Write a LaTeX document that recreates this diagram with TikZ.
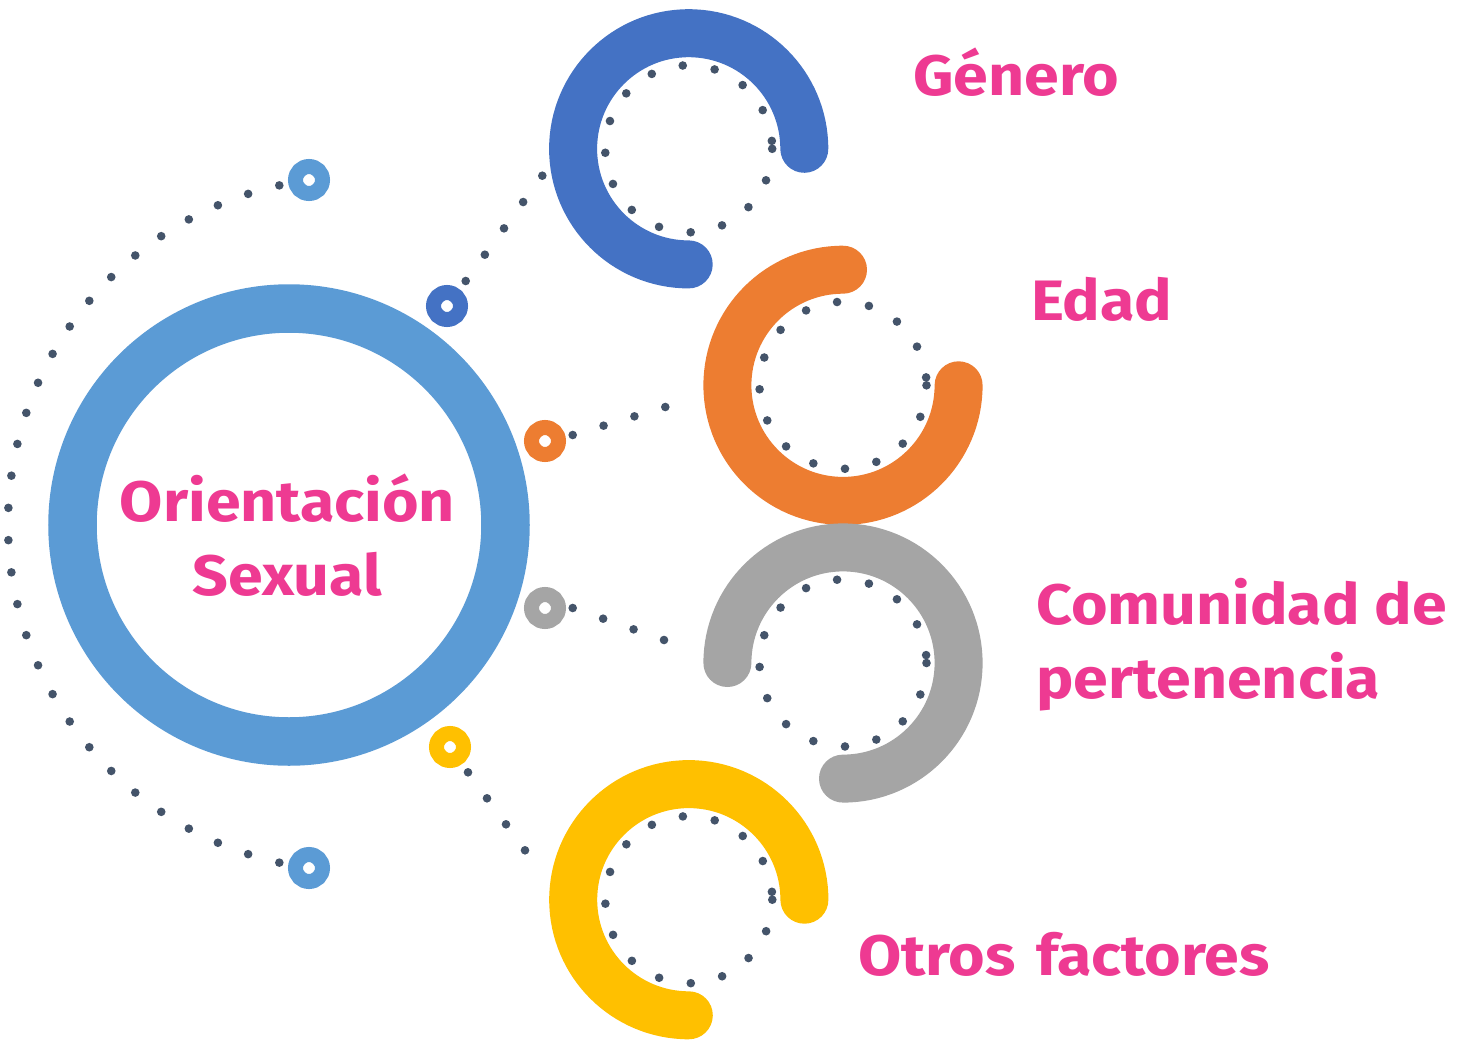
\documentclass[tikz,border=0pt]{standalone}
\usepackage{fontspec}
\setmainfont{Fira Sans}[FakeStretch=1.10]
\usetikzlibrary{calc}
\definecolor{mainblue}{HTML}{5B9BD5}
\definecolor{darkblue}{HTML}{4472C4}
\definecolor{orangeC}{HTML}{ED7D31}
\definecolor{grayC}{HTML}{A5A5A5}
\definecolor{yellowC}{HTML}{FFC000}
\definecolor{dotC}{HTML}{44546A}
\definecolor{pinkC}{HTML}{EE3A92}
\begin{document}
\begin{tikzpicture}[x=1pt,y=1pt,
  bigarc/.style={line width=48pt, line cap=round},
  ringnode/.style={circle, draw=#1, line width=15pt, minimum size=27pt, inner sep=0pt},
  lbl/.style={text=pinkC, font=\bfseries\fontsize{57}{74}\selectfont, inner sep=0pt},
  dotfill/.style={fill=dotC}
]
\useasboundingbox (0,0) rectangle (1460,-1045);
\fill[white] (0,0) rectangle (1460,-1045);

% centres
\coordinate (cBig) at (355,-524);
\coordinate (cG) at (688.7,-148.8);
\coordinate (cE) at (843,-385.3);
\coordinate (cC) at (843,-663);
\coordinate (cO) at (688.8,-899.7);

% big dotted arc
\foreach \k in {0,...,29} \fill[dotfill] ([shift={(102.6+5.338*\k:347)}]cBig) circle (4.3);

% main circle
\node[circle, draw=mainblue, line width=48.5pt, minimum size=433pt, inner sep=0pt] (main) at (289,-525) {};

% arcs
\draw[bigarc, darkblue] ([shift={(0:115.6)}]cG) arc[start angle=0, end angle=270, radius=115.6];
\draw[bigarc, orangeC] ([shift={(90:115.6)}]cE) arc[start angle=90, end angle=360, radius=115.6];
\draw[bigarc, grayC] ([shift={(180:115.6)}]cC) arc[start angle=180, end angle=-90, radius=115.6];
\draw[bigarc, yellowC] ([shift={(0:115.6)}]cO) arc[start angle=0, end angle=270, radius=115.6];

% dotted inner circles
\foreach \c in {cG,cE,cC,cO}
  \foreach \k in {0,...,16} \fill[dotfill] ([shift={(-22.16*\k:83.5)}]\c) circle (4.3);

% rings
\node[ringnode=mainblue] (ringTop) at (309,-180) {};
\node[ringnode=mainblue] (ringBot) at (309,-868) {};
\node[ringnode=darkblue] (ringG) at (447,-306) {};
\node[ringnode=orangeC] (ringE) at (545,-441) {};
\node[ringnode=grayC] (ringC) at (545,-608) {};
\node[ringnode=yellowC] (ringO) at (450,-747) {};

% connector end points
\coordinate (g1) at (465.7,-281);   \coordinate (g2) at (542.3,-175.7);
\coordinate (e1) at (572.7,-435);   \coordinate (e2) at (665.3,-407);
\coordinate (k1) at (572.7,-608);   \coordinate (k2) at (664,-640);
\coordinate (o1) at (468,-772.3);   \coordinate (o2) at (525,-850.3);

\foreach \i in {0,...,4} \fill[dotfill] ($(g1)!\i/4!(g2)$) circle (4.3);
\foreach \i in {0,...,3} \fill[dotfill] ($(e1)!\i/3!(e2)$) circle (4.3);
\foreach \i in {0,...,3} \fill[dotfill] ($(k1)!\i/3!(k2)$) circle (4.3);
\foreach \i in {0,...,3} \fill[dotfill] ($(o1)!\i/3!(o2)$) circle (4.3);

% labels
\node[lbl, anchor=base, align=center] (tMain) at (287.5,-595) {Orientación\\Sexual};
\node[lbl, anchor=base west] (tG) at (913,-95) {Género};
\node[lbl, anchor=base west] (tE) at (1031,-320) {Edad};
\node[lbl, anchor=base west, align=left] (tC) at (1036,-698) {Comunidad de\\pertenencia};
\node[lbl, anchor=base west] (tO) at (858,-975) {Otros\hspace{0.36em}factores};
\end{tikzpicture}
\end{document}
